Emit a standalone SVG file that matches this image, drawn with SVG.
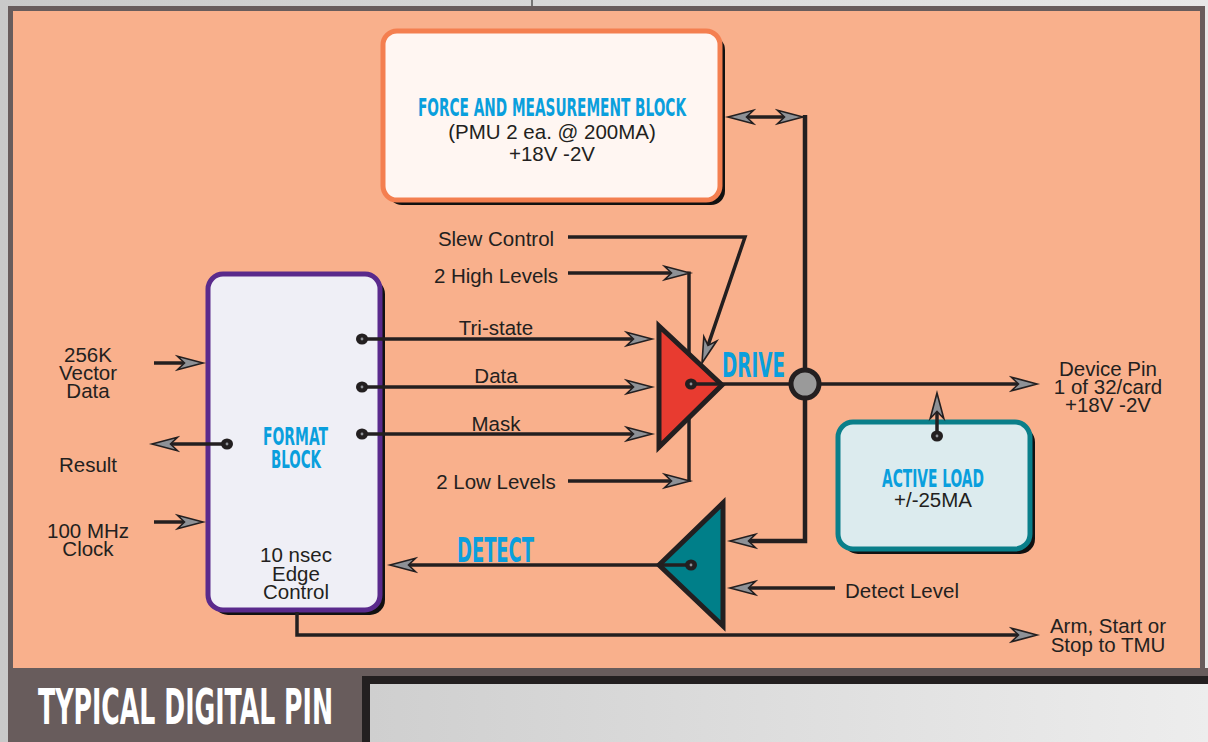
<svg xmlns="http://www.w3.org/2000/svg" width="1208" height="742" viewBox="0 0 1208 742">
<defs>
<marker id="ah" markerUnits="userSpaceOnUse" markerWidth="30" markerHeight="18" refX="15" refY="8" orient="auto-start-reverse" overflow="visible">
<path d="M27,8 L1.5,1.2 L8.5,8 L1.5,14.8 Z" fill="#8e9196" stroke="#231f20" stroke-width="1.6" stroke-linejoin="miter"/>
</marker>
<linearGradient id="gp" x1="0" y1="0" x2="1" y2="0">
<stop offset="0" stop-color="#cfcfcf"/>
<stop offset="1" stop-color="#ededed"/>
</linearGradient>
<linearGradient id="gt" x1="0" y1="0" x2="1" y2="0">
<stop offset="0" stop-color="#c9c9c9"/>
<stop offset="1" stop-color="#e8e8e8"/>
</linearGradient>
</defs>
<style>
.t{font-family:"Liberation Sans",Arial,sans-serif;font-size:20.5px;fill:#231f20;text-anchor:middle}
.b{font-family:"DejaVu Sans Condensed","DejaVu Sans",sans-serif;font-weight:bold;font-stretch:condensed;fill:#0a9fdd}
.ln{fill:none;stroke:#231f20;stroke-width:3.5}
.bus{fill:none;stroke:#231f20;stroke-width:4.5}
.arr{marker-end:url(#ah)}
.dot{fill:#231f20}
.dc{fill:#8e9196}
</style>
<!-- background -->
<rect x="0" y="0" width="1208" height="742" fill="url(#gt)"/>
<line x1="532" y1="0" x2="532" y2="9" stroke="#555" stroke-width="1.5"/>
<rect x="8" y="668" width="1200" height="74" fill="#685c5c"/>
<rect x="10.5" y="8.5" width="1192" height="662" fill="#f9b08c" stroke="#685c5c" stroke-width="5"/>
<rect x="362" y="676" width="846" height="66" fill="#231f20"/>
<rect x="370" y="684" width="838" height="58" fill="url(#gp)"/>
<text x="38" y="724" font-family="DejaVu Sans Condensed,DejaVu Sans,sans-serif" font-weight="bold" font-stretch="condensed" font-size="50" fill="#ffffff" textLength="295" lengthAdjust="spacingAndGlyphs">TYPICAL DIGITAL PIN</text>

<!-- force and measurement block -->
<g id="force-block">
<rect x="388" y="36" width="337" height="169" rx="14" fill="#111"/>
<rect x="383" y="31" width="337" height="169" rx="14" fill="#fff6f2" stroke="#f47f50" stroke-width="5"/>
<text class="b" x="418" y="116" font-size="25" textLength="268" lengthAdjust="spacingAndGlyphs">FORCE AND MEASUREMENT BLOCK</text>
<text class="t" x="552" y="139">(PMU 2 ea. @ 200MA)</text>
<text class="t" x="552" y="161">+18V -2V</text>
</g>

<!-- format block -->
<g id="format-block">
<rect x="213" y="279" width="172" height="336" rx="15" fill="#111"/>
<rect x="208" y="274" width="172" height="336" rx="15" fill="#efeff6" stroke="#5a2a8c" stroke-width="5"/>
<text class="b" x="263" y="445" font-size="24" textLength="65" lengthAdjust="spacingAndGlyphs">FORMAT</text>
<text class="b" x="271" y="468" font-size="24" textLength="50" lengthAdjust="spacingAndGlyphs">BLOCK</text>
<text class="t" x="296" y="562">10 nsec</text>
<text class="t" x="296" y="581">Edge</text>
<text class="t" x="296" y="599">Control</text>
</g>

<!-- active load -->
<g id="active-load">
<rect x="843" y="427" width="192" height="127" rx="15" fill="#111"/>
<rect x="838" y="422" width="192" height="127" rx="15" fill="#dcebee" stroke="#0a7f8a" stroke-width="5"/>
<text class="b" x="882" y="487" font-size="24" textLength="102" lengthAdjust="spacingAndGlyphs">ACTIVE LOAD</text>
<text class="t" x="933" y="507">+/-25MA</text>
</g>

<!-- left labels -->
<g id="inputs">
<text class="t" x="88" y="362">256K</text>
<text class="t" x="88" y="380">Vector</text>
<text class="t" x="88" y="398">Data</text>
<text class="t" x="88" y="472">Result</text>
<text class="t" x="88" y="538">100 MHz</text>
<text class="t" x="88" y="556">Clock</text>
</g>

<!-- signal labels -->
<g id="labels">
<text class="t" x="496" y="246">Slew Control</text>
<text class="t" x="496" y="283">2 High Levels</text>
<text class="t" x="496" y="335">Tri-state</text>
<text class="t" x="496" y="383">Data</text>
<text class="t" x="496" y="431">Mask</text>
<text class="t" x="496" y="489">2 Low Levels</text>
<text class="t" x="845" y="598" style="text-anchor:start">Detect Level</text>
<text class="t" x="1108" y="376">Device Pin</text>
<text class="t" x="1108" y="394">1 of 32/card</text>
<text class="t" x="1108" y="412">+18V -2V</text>
<text class="t" x="1108" y="633">Arm, Start or</text>
<text class="t" x="1108" y="652">Stop to TMU</text>
</g>

<!-- connectors -->
<g id="connectors">
<path class="ln arr" d="M154,363 H191"/>
<path class="ln arr" d="M154,522 H191"/>
<path class="ln arr" d="M227,444 H164"/>
<path class="ln arr" d="M362,339 H640"/>
<path class="ln arr" d="M362,387 H640"/>
<path class="ln arr" d="M362,434 H640"/>
<path class="ln" d="M689,271.5 V482"/>
<path class="ln arr" d="M568,273 H678"/>
<path class="ln arr" d="M568,481 H678"/>
<path class="ln arr" d="M568,237 H745 L705.9,351.6"/>
<path class="ln" d="M740,117 H791" marker-start="url(#ah)" marker-end="url(#ah)"/>
<path class="bus arr" d="M805,115 V541 H742"/>
<path class="ln arr" d="M835,588 H742"/>
<path class="ln arr" d="M297,612 V635 H1025"/>
<path class="ln arr" d="M937,436 V405"/>
<ellipse class="dot" cx="362" cy="339" rx="6" ry="5.5"/><circle class="dc" cx="362" cy="339" r="1.4"/>
<ellipse class="dot" cx="362" cy="387" rx="6" ry="5.5"/><circle class="dc" cx="362" cy="387" r="1.4"/>
<ellipse class="dot" cx="362" cy="434" rx="6" ry="5.5"/><circle class="dc" cx="362" cy="434" r="1.4"/>
<ellipse class="dot" cx="227" cy="444" rx="6" ry="5.5"/><circle class="dc" cx="227" cy="444" r="1.4"/>
<ellipse class="dot" cx="937" cy="436" rx="6" ry="5.5"/><circle class="dc" cx="937" cy="436" r="1.4"/>
</g>

<!-- drive -->
<g id="drive">
<polygon points="659,326 722,385 659,447" fill="#e83b30" stroke="#231f20" stroke-width="5" stroke-linejoin="miter"/>
<path class="ln arr" d="M691,384 H1025"/>
<ellipse class="dot" cx="691" cy="384" rx="6" ry="5.5"/><circle class="dc" cx="691" cy="384" r="1.4"/>
<text class="b" x="722" y="377" font-size="33" textLength="63" lengthAdjust="spacingAndGlyphs">DRIVE</text>
</g>

<!-- junction -->
<g id="junction">
<circle cx="805" cy="384" r="14" fill="#9a9a9a" stroke="#231f20" stroke-width="5"/>
</g>

<!-- detect -->
<g id="detect">
<polygon points="659,565 723,503 723,626" fill="#007f89" stroke="#231f20" stroke-width="5" stroke-linejoin="miter"/>
<path class="ln arr" d="M691,565 H402"/>
<ellipse class="dot" cx="691" cy="565" rx="6" ry="5.5"/><circle class="dc" cx="691" cy="565" r="1.4"/>
<text class="b" x="457" y="562" font-size="34" textLength="77" lengthAdjust="spacingAndGlyphs">DETECT</text>
</g>
</svg>
